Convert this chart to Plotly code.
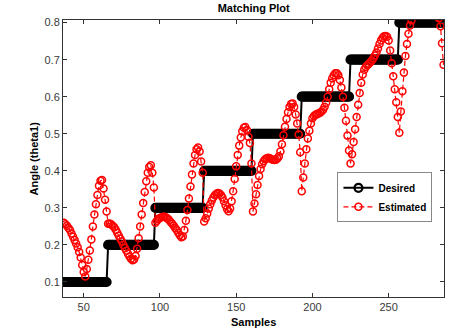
import plotly.graph_objects as go

# ---- data ----
samples = list(range(37, 287))  # 37..286

level_values = [0.1, 0.2, 0.3, 0.4, 0.5, 0.6, 0.7, 0.8]
level_starts = [37, 66, 97, 129, 161, 193, 225, 257]

est_seg1 = [0.260, 0.256, 0.252, 0.246, 0.240, 0.231, 0.222, 0.213, 0.204, 0.194,
            0.181, 0.166, 0.146, 0.127, 0.115, 0.135, 0.160, 0.185, 0.215, 0.250,
            0.282, 0.310, 0.335, 0.360, 0.373, 0.375, 0.352, 0.322, 0.290]
est_seg2 = [0.257, 0.258, 0.256, 0.252, 0.248, 0.241, 0.233, 0.225, 0.217, 0.209,
            0.200, 0.192, 0.184, 0.176, 0.169, 0.163, 0.159, 0.161, 0.170, 0.190,
            0.218, 0.250, 0.282, 0.313, 0.343, 0.372, 0.395, 0.410, 0.415, 0.395,
            0.355]
est_seg3 = [0.260, 0.265, 0.270, 0.273, 0.275, 0.276, 0.276, 0.274, 0.271, 0.267,
            0.262, 0.257, 0.252, 0.246, 0.240, 0.233, 0.226, 0.221, 0.223, 0.240,
            0.265, 0.294, 0.325, 0.358, 0.390, 0.420, 0.443, 0.458, 0.463, 0.452,
            0.425, 0.395]
est_seg4 = [0.263, 0.272, 0.285, 0.298, 0.310, 0.320, 0.328, 0.334, 0.338, 0.340,
            0.339, 0.335, 0.328, 0.318, 0.307, 0.297, 0.291, 0.298, 0.318, 0.345,
            0.378, 0.412, 0.443, 0.468, 0.490, 0.507, 0.516, 0.518, 0.510, 0.492,
            0.475, 0.420]
est_seg5 = [0.290, 0.312, 0.337, 0.362, 0.386, 0.405, 0.418, 0.426, 0.431, 0.434,
            0.435, 0.434, 0.432, 0.430, 0.429, 0.430, 0.433, 0.439, 0.452, 0.472,
            0.496, 0.519, 0.540, 0.558, 0.572, 0.580, 0.582, 0.572, 0.552, 0.528,
            0.498, 0.450]
est_seg6 = [0.345, 0.382, 0.420, 0.458, 0.487, 0.508, 0.528, 0.542, 0.548, 0.551,
            0.553, 0.555, 0.557, 0.560, 0.565, 0.573, 0.584, 0.600, 0.620, 0.638,
            0.650, 0.658, 0.663, 0.663, 0.658, 0.645, 0.625, 0.600, 0.570, 0.535,
            0.495, 0.455]
est_seg7 = [0.420, 0.445, 0.478, 0.512, 0.545, 0.578, 0.610, 0.638, 0.660, 0.673,
            0.680, 0.685, 0.689, 0.693, 0.698, 0.704, 0.711, 0.719, 0.730, 0.742,
            0.752, 0.759, 0.763, 0.764, 0.762, 0.752, 0.725, 0.690, 0.655, 0.620,
            0.585, 0.545]
est_seg8 = [0.503, 0.560, 0.615, 0.665, 0.710, 0.742, 0.770, 0.792, 0.806, 0.825,
            0.845, 0.862, 0.876, 0.886, 0.892, 0.894, 0.892, 0.886, 0.877, 0.866,
            0.855, 0.845, 0.836, 0.828, 0.822, 0.816, 0.812, 0.790, 0.744, 0.686]

estimated = (est_seg1 + est_seg2 + est_seg3 + est_seg4 +
             est_seg5 + est_seg6 + est_seg7 + est_seg8)

x_ticks = [50, 100, 150, 200, 250]
y_ticks = [0.1, 0.2, 0.3, 0.4, 0.5, 0.6, 0.7, 0.8]

# desired staircase built from the level tables
desired = []
for s in samples:
    val = level_values[0]
    for start, lv in zip(level_starts, level_values):
        if s >= start:
            val = lv
    desired.append(val)

FONT = "Liberation Sans, Arial, Helvetica, sans-serif"

fig = go.Figure()
fig.add_trace(go.Scatter(
    x=samples, y=desired, name="Desired", mode="lines+markers",
    line=dict(color="black", width=2),
    marker=dict(symbol="circle-open", size=8, color="black", line=dict(width=2.2, color="black")),
))
fig.add_trace(go.Scatter(
    x=samples, y=estimated, name="Estimated", mode="lines+markers",
    line=dict(color="#ff0000", width=1.2, dash="5px,3px"),
    marker=dict(symbol="circle-open", size=7, color="#ff0000", line=dict(width=1.5, color="#ff0000")),
))

axis_common = dict(
    showline=True, linecolor="#333", linewidth=1, mirror="ticks",
    ticks="inside", ticklen=4, tickcolor="#333", tickwidth=1,
    showgrid=False, zeroline=False,
    tickfont=dict(family=FONT, size=11, color="#3a3a3a"),
)

fig.update_layout(
    width=476, height=332,
    margin=dict(l=63, r=32, t=20, b=35),
    paper_bgcolor="white", plot_bgcolor="white",
    hovermode=False,
    title=dict(text="<b>Matching Plot</b>", x=0.533, xanchor="center",
               y=1 - 8 / 332, yanchor="middle", yref="container",
               font=dict(family=FONT, size=11, color="black")),
    xaxis=dict(range=[36.4, 286.3], tickvals=x_ticks, **axis_common),
    yaxis=dict(range=[0.0595, 0.807], tickvals=y_ticks,
               tickformat=".1f", **axis_common),
    legend=dict(x=0.845, y=0.36, xanchor="center", yanchor="middle",
                bgcolor="white", bordercolor="#888", borderwidth=1,
                font=dict(family=FONT, size=10, color="black", weight="bold"),
                itemwidth=30, tracegroupgap=0),
    showlegend=True,
    annotations=[
        dict(text="<b>Samples</b>", x=0.5, y=0, xref="paper", yref="paper",
             yshift=-25, yanchor="middle", showarrow=False,
             font=dict(family=FONT, size=11, color="black")),
        dict(text="<b>Angle (theta1)</b>", x=0, y=0.5, xref="paper", yref="paper",
             xshift=-22, xanchor="right", textangle=-90, showarrow=False,
             font=dict(family=FONT, size=11, color="black")),
    ],
)

fig.write_html("out.html",
               config={"displayModeBar": False, "staticPlot": True},
               post_script="document.body.style.margin='0px';document.body.style.padding='0px';")
